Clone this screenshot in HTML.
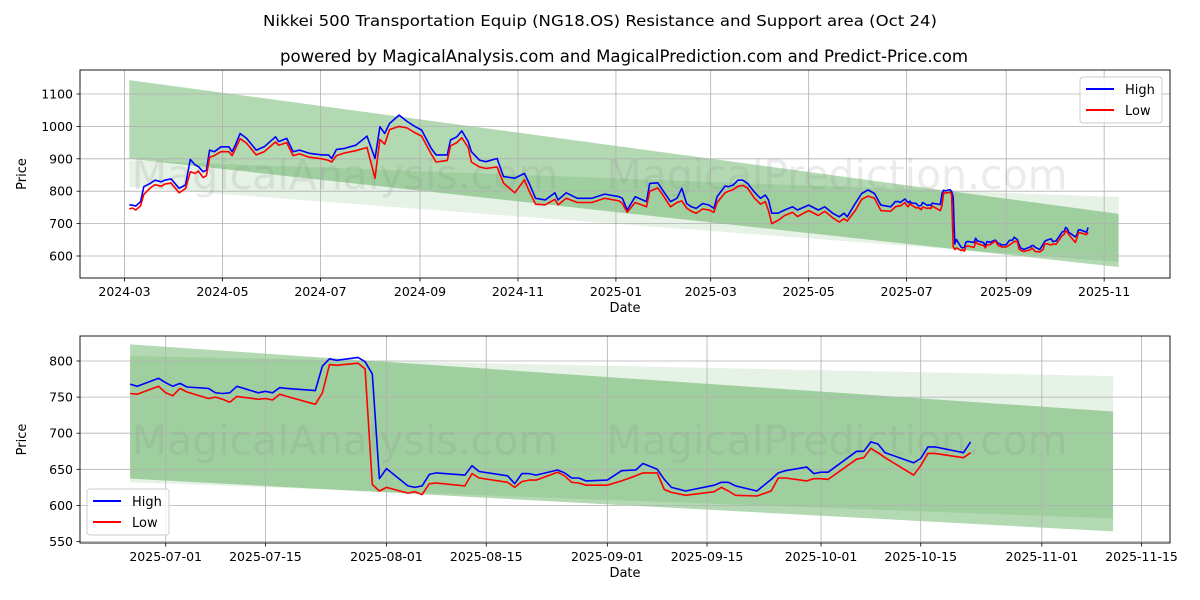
<!DOCTYPE html>
<html><head><meta charset="utf-8"><style>
html,body{margin:0;padding:0;background:#fff;}
svg{display:block;font-family:"DejaVu Sans","Liberation Sans",sans-serif;}
</style></head><body>
<svg id="chart" width="1200" height="600" viewBox="0 0 1200 600" xmlns="http://www.w3.org/2000/svg">
<rect width="1200" height="600" fill="#fff"/>
<text x="600" y="26" text-anchor="middle" font-size="15.5" textLength="674" lengthAdjust="spacingAndGlyphs" fill="#000">Nikkei 500 Transportation Equip (NG18.OS) Resistance and Support area (Oct 24)</text>
<text x="624" y="62" text-anchor="middle" font-size="16.5" textLength="688" lengthAdjust="spacingAndGlyphs" fill="#000">powered by MagicalAnalysis.com and MagicalPrediction.com and Predict-Price.com</text>
<defs>
<clipPath id="clipTop"><rect x="80" y="70" width="1090" height="208"/></clipPath>
<clipPath id="clipBot"><rect x="80" y="336" width="1090" height="207"/></clipPath>
</defs>
<g id="top"></g>
<g id="bot"></g>
</svg>
<script>
// ---------- TOP CHART DATA ----------
const topDates = ["2024-03-04","2024-03-06","2024-03-08","2024-03-11","2024-03-13","2024-03-17","2024-03-20","2024-03-24","2024-03-26","2024-03-30","2024-04-04","2024-04-08","2024-04-11","2024-04-14","2024-04-16","2024-04-19","2024-04-21","2024-04-23","2024-04-26","2024-04-30","2024-05-05","2024-05-07","2024-05-09","2024-05-12","2024-05-16","2024-05-22","2024-05-27","2024-06-03","2024-06-05","2024-06-10","2024-06-14","2024-06-18","2024-06-24","2024-07-02","2024-07-06","2024-07-08","2024-07-11","2024-07-16","2024-07-23","2024-07-30","2024-08-04","2024-08-07","2024-08-10","2024-08-13","2024-08-19","2024-08-24","2024-08-29","2024-09-02","2024-09-08","2024-09-11","2024-09-18","2024-09-20","2024-09-24","2024-09-27","2024-10-01","2024-10-03","2024-10-08","2024-10-12","2024-10-19","2024-10-23","2024-10-30","2024-11-05","2024-11-08","2024-11-12","2024-11-18","2024-11-24","2024-11-26","2024-12-01","2024-12-08","2024-12-17","2024-12-25","2025-01-03","2025-01-05","2025-01-08","2025-01-13","2025-01-20","2025-01-22","2025-01-27","2025-01-30","2025-02-04","2025-02-08","2025-02-11","2025-02-14","2025-02-17","2025-02-20","2025-02-24","2025-02-28","2025-03-03","2025-03-05","2025-03-10","2025-03-12","2025-03-15","2025-03-18","2025-03-21","2025-03-24","2025-03-28","2025-04-01","2025-04-04","2025-04-06","2025-04-08","2025-04-12","2025-04-16","2025-04-21","2025-04-24","2025-05-01","2025-05-07","2025-05-11","2025-05-16","2025-05-20","2025-05-23","2025-05-25","2025-05-30","2025-06-03","2025-06-07","2025-06-11","2025-06-15","2025-06-21","2025-06-24"];
const topHigh = [757,757,754,768,814,824,834,829,834,838,809,819,898,881,876,860,865,927,922,937,937,922,942,978,963,927,937,968,953,963,922,927,917,912,912,901,929,932,942,970,901,999,978,1009,1035,1015,999,989,932,912,912,958,968,986,953,922,896,891,901,845,840,855,824,778,773,795,773,795,778,778,791,783,778,742,783,768,824,826,804,768,778,809,762,752,747,762,757,747,783,816,814,819,834,834,824,798,778,788,773,732,732,742,752,742,757,742,752,732,721,732,721,762,793,804,793,757,752,768];
const topLow = [745,748,742,755,790,810,820,815,822,825,795,808,860,855,862,842,848,905,910,922,922,910,930,962,948,912,922,952,942,950,910,915,905,900,895,890,910,918,925,935,840,960,945,990,1000,995,980,970,915,890,895,940,950,965,935,890,875,870,875,825,795,835,800,760,758,775,758,778,765,765,778,770,762,735,765,752,800,810,790,752,765,770,748,738,732,745,742,735,765,795,800,805,815,818,810,780,760,768,740,700,710,725,735,722,740,725,738,718,705,715,708,740,775,785,778,740,738,752];
// ---------- BOTTOM CHART DATA (also continues top chart) ----------
const botDates = ["2025-06-26","2025-06-27","2025-06-30","2025-07-01","2025-07-02","2025-07-03","2025-07-04","2025-07-07","2025-07-08","2025-07-09","2025-07-10","2025-07-11","2025-07-14","2025-07-15","2025-07-16","2025-07-17","2025-07-18","2025-07-22","2025-07-23","2025-07-24","2025-07-25","2025-07-28","2025-07-29","2025-07-30","2025-07-31","2025-08-01","2025-08-04","2025-08-05","2025-08-06","2025-08-07","2025-08-08","2025-08-12","2025-08-13","2025-08-14","2025-08-18","2025-08-19","2025-08-20","2025-08-21","2025-08-22","2025-08-25","2025-08-26","2025-08-27","2025-08-28","2025-08-29","2025-09-01","2025-09-03","2025-09-05","2025-09-06","2025-09-08","2025-09-09","2025-09-10","2025-09-12","2025-09-16","2025-09-17","2025-09-18","2025-09-19","2025-09-22","2025-09-24","2025-09-25","2025-09-26","2025-09-29","2025-09-30","2025-10-01","2025-10-02","2025-10-06","2025-10-07","2025-10-08","2025-10-09","2025-10-10","2025-10-14","2025-10-15","2025-10-16","2025-10-17","2025-10-21","2025-10-22"];
const botHigh = [768,765,776,770,765,769,764,762,756,755,756,765,756,758,756,763,762,759,793,803,801,805,799,782,637,651,627,625,627,643,645,642,655,647,641,630,644,644,642,649,645,638,638,634,635,648,649,658,650,636,625,620,628,632,632,627,620,636,645,648,653,644,646,646,675,675,688,685,673,659,665,681,681,673,688];
const botLow = [755,754,765,756,752,762,757,748,750,747,743,751,747,748,746,754,751,740,756,795,794,797,789,629,620,625,617,619,615,630,631,627,644,638,632,625,633,635,635,646,641,632,631,628,628,634,641,645,645,622,618,614,619,625,620,614,613,620,638,638,634,637,637,636,664,666,679,673,666,642,655,672,672,666,673];
// Bands: [startValueTop, endValueTop, startValueBottom, endValueBottom]
const topBandDates = ["2024-03-04","2025-11-10"];
const topBand1 = [1143,730,900,566];
const topBand2 = [895,782,813,582];
const botBandDates = ["2025-06-26","2025-11-11"];
const botBand1 = [823,730,637,564];
const botBand2 = [807,779,632,582];
// Ticks
const topYTicks = [600,700,800,900,1000,1100];
const topXTicks = ["2024-03","2024-05","2024-07","2024-09","2024-11","2025-01","2025-03","2025-05","2025-07","2025-09","2025-11"];
const botYTicks = [550,600,650,700,750,800];
const botXTicks = ["2025-07-01","2025-07-15","2025-08-01","2025-08-15","2025-09-01","2025-09-15","2025-10-01","2025-10-15","2025-11-01","2025-11-15"];

const NS = "http://www.w3.org/2000/svg";
function dayNum(s){ const p=s.split("-").map(Number); return Date.UTC(p[0],p[1]-1,p[2]||1)/86400000; }
const T0 = dayNum("2024-03-01"), B0 = dayNum("2025-07-01");
const xTop = s => 124.5 + (dayNum(s)-T0)*1.606;
const yTop = v => 94 + (1100-v)*0.324;
const xBot = s => 165.7 + (dayNum(s)-B0)*7.123;
const yBot = v => 361 + (800-v)*0.722;

function mk(parent, tag, attrs){ const e=document.createElementNS(NS,tag); for(const k in attrs) e.setAttribute(k,attrs[k]); parent.appendChild(e); return e; }

function panel(g, cfg){
  const {x0,y0,w,h,xs,ys,yTicks,xTicks,bandDates,b1,b2,dates,hi,lo,clip,legendX,legendY} = cfg;
  const bands = [[b1,0.3,'band-1'],[b2,0.1,'band-2']];
  for(const [b,a,nm] of bands){
    const xa=xs(bandDates[0]), xb=xs(bandDates[1]);
    const p = mk(g,'polygon',{points:`${xa},${ys(b[0])} ${xb},${ys(b[1])} ${xb},${ys(b[3])} ${xa},${ys(b[2])}`, fill:'green','fill-opacity':a, 'clip-path':`url(#${clip})`});
    
    
  }
  for(const v of yTicks){
    const y=ys(v);
    const l=mk(g,'line',{x1:x0,x2:x0+w,y1:y,y2:y,stroke:'#b0b0b0','stroke-width':0.8});
    
    
    const tk=mk(g,'line',{x1:x0-3.5,x2:x0,y1:y,y2:y,stroke:'#000','stroke-width':0.8});
    
    
    const t=mk(g,'text',{x:x0-7,y:y+4.5,'text-anchor':'end','font-size':12.5,fill:'#000'});
    t.textContent=v;
    
    
  }
  for(const d of xTicks){
    const x=xs(d);
    const l=mk(g,'line',{x1:x,x2:x,y1:y0,y2:y0+h,stroke:'#b0b0b0','stroke-width':0.8});
    
    
    const tk=mk(g,'line',{x1:x,x2:x,y1:y0+h,y2:y0+h+3.5,stroke:'#000','stroke-width':0.8});
    
    
    const t=mk(g,'text',{x:x,y:y0+h+18,'text-anchor':'middle','font-size':12.5,fill:'#000'});
    t.textContent=d;
    
    
  }
  const w1=mk(g,'text',{x:x0+265,y:y0+h/2+15,'text-anchor':'middle','font-size':41,fill:'#888','fill-opacity':0.17});
  w1.textContent='MagicalAnalysis.com';
  
  
  const w2=mk(g,'text',{x:x0+757,y:y0+h/2+15,'text-anchor':'middle','font-size':41,fill:'#888','fill-opacity':0.17});
  w2.textContent='MagicalPrediction.com';
  
  
  const mkLine=(vals,col,nm)=>{
    const pts=dates.map((d,i)=>`${xs(d).toFixed(1)},${ys(vals[i]).toFixed(1)}`).join(' ');
    const pl=mk(g,'polyline',{points:pts,fill:'none',stroke:col,'stroke-width':1.6,'stroke-linejoin':'round','clip-path':`url(#${clip})`});
    
    
  };
  mkLine(hi,'#0000ff','high-line');
  mkLine(lo,'#ff0000','low-line');
  const fr=mk(g,'rect',{x:x0,y:y0,width:w,height:h,fill:'none',stroke:'#000','stroke-width':0.9});
  
  
  const xt=mk(g,'text',{x:x0+w/2,y:y0+h+34,'text-anchor':'middle','font-size':13,fill:'#000'});
  xt.textContent='Date';
  
  
  const yt=mk(g,'text',{x:0,y:0,'text-anchor':'middle','font-size':13,fill:'#000',transform:`translate(${x0-54},${y0+h/2}) rotate(-90)`});
  yt.textContent='Price';
  
  
  const lg=mk(g,'g',{});
  
  
  const lb=mk(lg,'rect',{x:legendX,y:legendY,width:82,height:46,rx:3,fill:'#fff','fill-opacity':0.8,stroke:'#ccc','stroke-width':1});
  
  
  const items=[['High','#0000ff'],['Low','#ff0000']];
  items.forEach((it,i)=>{
    const yy=legendY+12+i*21;
    const ll=mk(lg,'line',{x1:legendX+6,x2:legendX+34,y1:yy,y2:yy,stroke:it[1],'stroke-width':2});
    
    
    const tt=mk(lg,'text',{x:legendX+45,y:yy+5,'font-size':13,fill:'#000'});
    tt.textContent=it[0];
    
    
  });
}

panel(document.getElementById('top'),{x0:80,y0:70,w:1090,h:208,xs:xTop,ys:yTop,yTicks:topYTicks,xTicks:topXTicks,
  bandDates:topBandDates,b1:topBand1,b2:topBand2,dates:topDates.concat(botDates),hi:topHigh.concat(botHigh),lo:topLow.concat(botLow),clip:'clipTop',legendX:1080,legendY:77});
panel(document.getElementById('bot'),{x0:80,y0:336,w:1090,h:207,xs:xBot,ys:yBot,yTicks:botYTicks,xTicks:botXTicks,
  bandDates:botBandDates,b1:botBand1,b2:botBand2,dates:botDates,hi:botHigh,lo:botLow,clip:'clipBot',legendX:87,legendY:489});
</script>
</body></html>
